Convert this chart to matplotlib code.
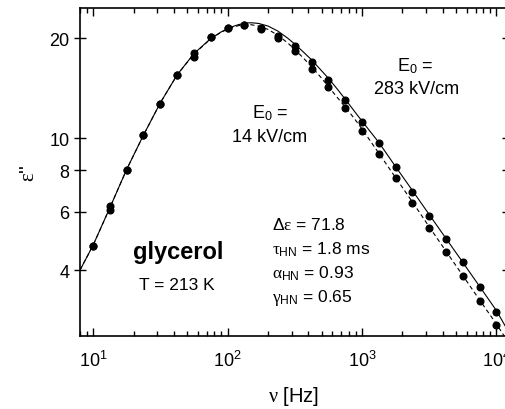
import matplotlib
matplotlib.use("Agg")
import matplotlib.pyplot as plt
from matplotlib.ticker import FixedLocator, LogLocator, NullFormatter, NullLocator

plt.rcParams['font.family'] = ['Liberation Sans', 'DejaVu Sans']
plt.rcParams['mathtext.fontset'] = 'custom'
plt.rcParams['mathtext.rm'] = 'Liberation Sans'
plt.rcParams['mathtext.it'] = 'Liberation Serif'
plt.rcParams['mathtext.bf'] = 'Liberation Sans:bold'

# measured points, 8 per decade
freq = [10, 13.3, 17.8, 23.7, 31.6, 42.2, 56.2, 75.0, 100, 133, 178, 237, 316,
        422, 562, 750, 1000, 1334, 1778, 2371, 3162, 4217, 5623, 7499, 10000]
eps_283 = [4.72, 6.22, 8.03, 10.2, 12.7, 15.5, 18.0, 20.1, 21.4, 21.9, 21.5, 20.3, 18.9,
           17.0, 15.0, 13.0, 11.2, 9.66, 8.16, 6.90, 5.84, 4.97, 4.23, 3.55, 3.00]
eps_14 = [4.72, 6.08, 8.03, 10.2, 12.7, 15.5, 17.6, 20.1, 21.4, 21.9, 21.3, 19.95, 18.3,
          16.2, 14.2, 12.3, 10.5, 8.95, 7.56, 6.37, 5.36, 4.53, 3.83, 3.24, 2.74]

# fit curves
fit_freq = [8, 10, 13.3, 17.8, 23.7, 31.6, 42.2, 56.2, 75, 90, 105, 120, 135, 150, 170,
            200, 237, 280, 316, 370, 422, 490, 562, 650, 750, 870, 1000, 1334, 1778,
            2371, 3162, 4217, 5623, 7499, 10000, 12200]
fit_283 = [4.0, 4.75, 6.15, 8.05, 10.2, 12.75, 15.5, 17.95, 19.95, 20.9, 21.55, 21.95,
           22.2, 22.25, 22.15, 21.75, 21.0, 20.0, 19.2, 18.1, 17.2, 16.1, 15.15, 14.1,
           13.1, 12.1, 11.25, 9.7, 8.2, 6.95, 5.88, 4.98, 4.22, 3.57, 3.02, 2.62]
fit_14 = [4.0, 4.75, 6.15, 8.05, 10.2, 12.75, 15.5, 17.9, 19.9, 20.85, 21.45, 21.8,
          21.95, 21.95, 21.75, 21.25, 20.4, 19.35, 18.5, 17.35, 16.4, 15.3, 14.3, 13.3,
          12.4, 11.5, 10.65, 9.0, 7.6, 6.42, 5.4, 4.56, 3.85, 3.25, 2.75, 2.43]

y_ticks = [4, 6, 8, 10, 20]
x_ticks = [10, 100, 1000, 10000]

fig = plt.figure(figsize=(5.06, 4.10), dpi=100)
ax = fig.add_axes([80 / 506, 73 / 410, 428 / 506, 328.3 / 410])

ax.plot(fit_freq, fit_283, 'k-', lw=0.8)
ax.plot(fit_freq, fit_14, 'k', lw=0.8, dashes=(3.75, 2.75))
ax.plot(freq, eps_283, 'ko', ms=4.8, mec='k')
ax.plot(freq, eps_14, 'ko', ms=4.8, mec='k')

ax.set_xscale('log')
ax.set_yscale('log')
ax.set_xlim(8.0, 12180)
ax.set_ylim(2.533, 24.7)

ax.yaxis.set_major_locator(FixedLocator(y_ticks))
ax.yaxis.set_minor_locator(NullLocator())
ax.set_yticklabels([str(v) for v in y_ticks])
ax.xaxis.set_major_locator(FixedLocator(x_ticks))
ax.xaxis.set_minor_locator(LogLocator(base=10, subs=range(2, 10), numticks=20))
ax.xaxis.set_minor_formatter(NullFormatter())
ax.set_xticklabels([r'$\mathregular{10^{%d}}$' % i for i in range(1, 5)])

for s in ax.spines.values():
    s.set_linewidth(1.2)
ax.tick_params(axis='x', which='both', direction='in', top=True, width=1.0, labelsize=13, pad=10)
ax.tick_params(axis='x', which='major', length=6)
ax.tick_params(axis='x', which='minor', length=3.5)
ax.tick_params(axis='y', which='major', direction='inout', right=True, length=9, width=1.0,
               labelsize=13, pad=3)

ax.set_xlabel(r'$\mathit{\nu}$ [Hz]', fontsize=14.5, labelpad=10)
ax.set_ylabel(r"$\mathit{\varepsilon}$''", fontsize=15, labelpad=8)

fig.text(270 / 506, 1 - 113 / 410, r'E$_\mathregular{0}$ =', fontsize=13, ha='center', va='center')
fig.text(270 / 506, 1 - 137 / 410, '14 kV/cm', fontsize=13, ha='center', va='center')
fig.text(415 / 506, 1 - 66 / 410, r'E$_\mathregular{0}$ =', fontsize=13, ha='center', va='center')
fig.text(417 / 506, 1 - 90 / 410, '283 kV/cm', fontsize=13, ha='center', va='center')

fig.text(178 / 506, 1 - 253 / 410, 'glycerol', fontsize=17, fontweight='bold',
         ha='center', va='center')
fig.text(177 / 506, 1 - 286 / 410, 'T = 213 K', fontsize=12.5, ha='center', va='center')

params = [r'$\mathit{\Delta\varepsilon}$ = 71.8',
          r'$\mathit{\tau}_\mathregular{HN}$ = 1.8 ms',
          r'$\mathit{\alpha}_\mathregular{HN}$ = 0.93',
          r'$\mathit{\gamma}_\mathregular{HN}$ = 0.65']
for i, p in enumerate(params):
    fig.text(272 / 506, 1 - (225 + 24.5 * i) / 410, p, fontsize=12.5, ha='left', va='center')

fig.savefig('out.png', dpi=100)
